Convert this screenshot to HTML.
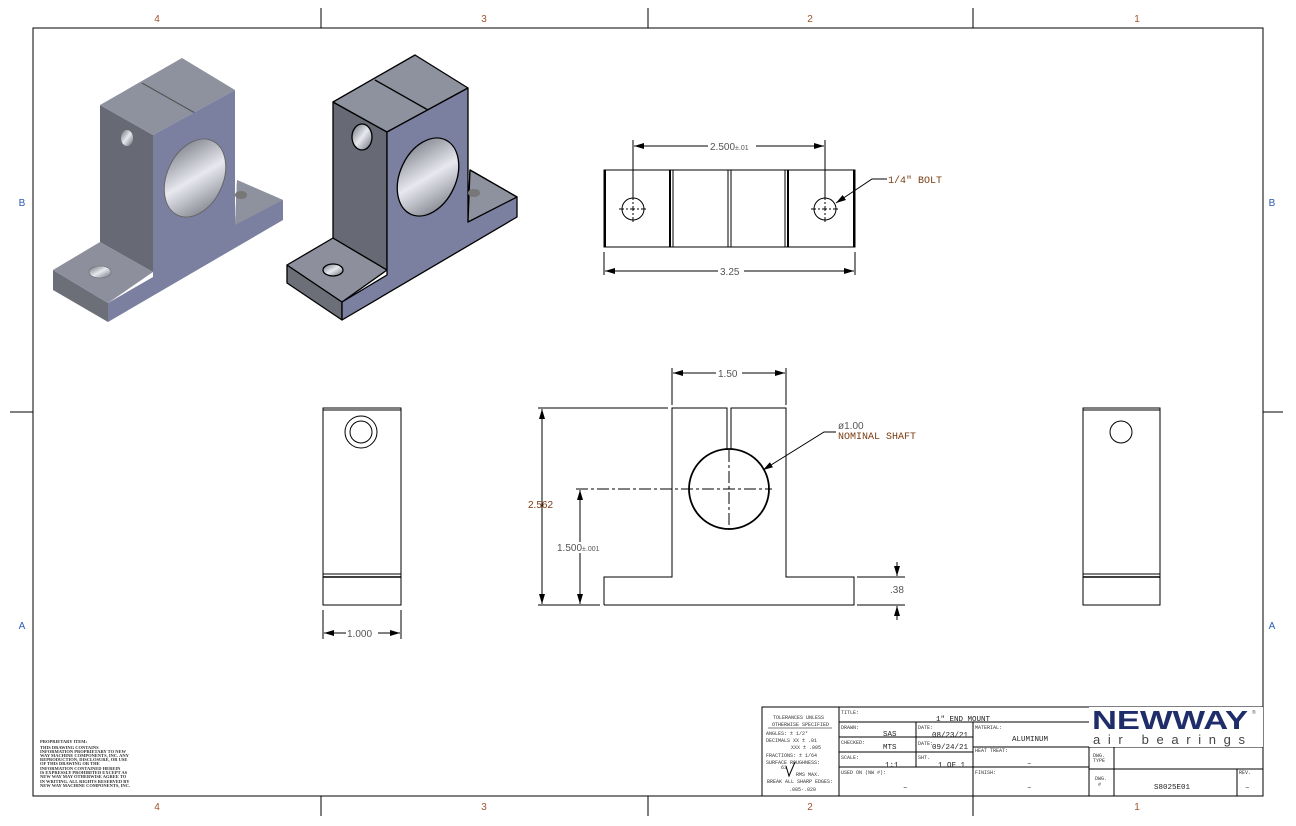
<!DOCTYPE html>
<html><head><meta charset="utf-8"><style>
html,body{margin:0;padding:0;background:#fff}
svg{display:block}
.s{font-family:"Liberation Sans",sans-serif}
.m{font-family:"Liberation Mono",monospace}
.r{font-family:"Liberation Serif",serif}
</style></head><body>
<svg width="1296" height="826" viewBox="0 0 1296 826" xmlns="http://www.w3.org/2000/svg">
<defs>
<marker id="ar" viewBox="0 0 10 6" refX="10" refY="3" markerWidth="10" markerHeight="6" orient="auto-start-reverse" markerUnits="userSpaceOnUse"><path d="M0,0L10,3L0,6z" fill="#000"/></marker>
<linearGradient id="hg" x1="0" y1="0" x2="1" y2="1"><stop offset="0" stop-color="#6a6d78"/><stop offset="0.5" stop-color="#e8e9ef"/><stop offset="1" stop-color="#6a6d78"/></linearGradient>
</defs>
<rect width="1296" height="826" fill="#fff"/>
<rect x="33" y="28" width="1230" height="768" fill="none" stroke="#000" stroke-width="1"/>
<g stroke="#000" stroke-width="1">
<line x1="321" y1="8" x2="321" y2="28"/><line x1="648" y1="8" x2="648" y2="28"/><line x1="973" y1="8" x2="973" y2="28"/>
<line x1="321" y1="796" x2="321" y2="816"/><line x1="648" y1="796" x2="648" y2="816"/><line x1="973" y1="796" x2="973" y2="816"/>
<line x1="10" y1="412" x2="33" y2="412"/><line x1="1263" y1="412" x2="1283" y2="412"/>
</g>
<g class="s" font-size="10" fill="#a0522d" text-anchor="middle">
<text x="157" y="22">4</text><text x="484" y="22">3</text><text x="810" y="22">2</text><text x="1137" y="22">1</text>
<text x="157" y="810">4</text><text x="484" y="810">3</text><text x="810" y="810">2</text><text x="1137" y="810">1</text>
</g>
<g class="s" font-size="10" fill="#2a5db0" text-anchor="middle">
<text x="22" y="206">B</text><text x="22" y="629">A</text><text x="1272" y="206">B</text><text x="1272" y="629">A</text>
</g>

<g>
<polygon points="53,270 108,303 108,322 53,290" fill="#6c6f78"/>
<polygon points="53,270 100,242 153,272 108,303" fill="#8d909c"/>
<polygon points="100,105 153,135 153,272 100,242" fill="#676a74"/>
<polygon points="100,105 182,58 235,90 153,135" fill="#8e919e"/>
<line x1="142" y1="83" x2="195" y2="113" stroke="#555" stroke-width="1.2"/>
<polygon points="153,135 235,90 235,225 237,180 283,200 283,220 108,322 108,303 153,277" fill="#7b7fa0"/>
<polygon points="237,180 283,200 235,225" fill="#8e919e"/>
<ellipse cx="195" cy="178" rx="28" ry="41" transform="rotate(25 195 178)" fill="url(#hg)" stroke="#666"/>
<ellipse cx="127" cy="138" rx="6" ry="8" fill="url(#hg)"/>
<ellipse cx="100" cy="272" rx="11" ry="6" fill="url(#hg)" stroke="#666" stroke-width=".6"/>
<ellipse cx="241" cy="195" rx="6" ry="4" fill="#777"/>
</g>
<g stroke="#000" stroke-width="1.3" stroke-linejoin="round">
<polygon points="287,265 342,302 342,320 287,283" fill="#6c6f78"/>
<polygon points="287,265 333,238 387,270 342,302" fill="#8d909c"/>
<polygon points="333,102 387,132 387,270 333,238" fill="#676a74"/>
<polygon points="333,102 415,55 468,88 387,132" fill="#8e919e"/>
<polygon points="387,132 468,88 468,222 470,170 517,197 517,217 342,320 342,302 387,275" fill="#7b7fa0"/>
<polygon points="470,170 517,197 468,222" fill="#8e919e"/>
<line x1="375" y1="80" x2="428" y2="110"/>
<ellipse cx="428" cy="177" rx="28" ry="41" transform="rotate(25 428 177)" fill="url(#hg)"/>
<ellipse cx="362" cy="137" rx="10" ry="13" fill="url(#hg)"/>
<ellipse cx="333" cy="270" rx="10" ry="6" fill="url(#hg)"/>
<ellipse cx="474" cy="193" rx="6" ry="4" fill="#777" stroke="none"/>
</g>

<g stroke="#000" stroke-width="1" fill="none">
<rect x="604" y="170" width="251" height="77"/>
<line x1="605" y1="170" x2="605" y2="247" stroke-width="2"/>
<line x1="670" y1="170" x2="670" y2="247" stroke-width="2"/><line x1="673" y1="170" x2="673" y2="247"/>
<line x1="728" y1="170" x2="728" y2="247"/><line x1="731" y1="170" x2="731" y2="247"/>
<line x1="785" y1="170" x2="785" y2="247"/><line x1="788" y1="170" x2="788" y2="247" stroke-width="2"/>
<line x1="854" y1="170" x2="854" y2="247" stroke-width="2"/>
<circle cx="633" cy="209" r="11"/><circle cx="825" cy="209" r="11"/>
<path d="M619,209h28M633,195v28M811,209h28M825,195v28" stroke-dasharray="5,2,2,2"/>
<line x1="633" y1="140" x2="633" y2="198"/><line x1="825" y1="140" x2="825" y2="198"/>
<line x1="634" y1="146" x2="824" y2="146" marker-start="url(#ar)" marker-end="url(#ar)"/>
<line x1="604" y1="252" x2="604" y2="275"/><line x1="855" y1="252" x2="855" y2="275"/>
<line x1="605" y1="271" x2="854" y2="271" marker-start="url(#ar)" marker-end="url(#ar)"/>
<polyline points="887,179 872,179 836,203" marker-end="url(#ar)"/>
</g>
<rect x="708" y="140" width="48" height="11" fill="#fff"/>
<text class="s" x="710" y="150" font-size="10" fill="#555">2.500<tspan font-size="7">±.01</tspan></text>
<rect x="718" y="265" width="26" height="11" fill="#fff"/>
<text class="s" x="720" y="275" font-size="10" fill="#555">3.25</text>
<text class="m" x="888" y="183" font-size="10" fill="#7a3b10">1/4" BOLT</text>

<g stroke="#000" stroke-width="1" fill="none">
<polyline points="604,605 604,577 672,577 672,408 727,408 727,450"/>
<polyline points="731,450 731,408 786,408 786,577 854,577 854,605 604,605"/>
<circle cx="729" cy="489" r="40" stroke-width="1.8"/>
<line x1="576" y1="489" x2="772" y2="489" stroke-dasharray="12,3,3,3"/>
<line x1="729" y1="450" x2="729" y2="530" stroke-dasharray="12,3,3,3"/>
<line x1="672" y1="405" x2="672" y2="368"/><line x1="786" y1="405" x2="786" y2="368"/>
<line x1="673" y1="373" x2="785" y2="373" marker-start="url(#ar)" marker-end="url(#ar)"/>
<line x1="538" y1="408" x2="668" y2="408"/>
<line x1="538" y1="605" x2="600" y2="605"/>
<line x1="542" y1="409" x2="542" y2="604" marker-start="url(#ar)" marker-end="url(#ar)"/>
<line x1="580" y1="490" x2="580" y2="604" marker-start="url(#ar)" marker-end="url(#ar)"/>
<line x1="857" y1="577" x2="905" y2="577"/><line x1="857" y1="605" x2="905" y2="605"/>
<line x1="897" y1="562" x2="897" y2="576" marker-end="url(#ar)"/>
<line x1="897" y1="620" x2="897" y2="606" marker-end="url(#ar)"/>
<polyline points="836,432 824,432 763,470" marker-end="url(#ar)"/>
</g>
<rect x="716" y="367" width="26" height="11" fill="#fff"/>
<text class="s" x="718" y="377" font-size="10" fill="#555">1.50</text>
<text class="s" x="528" y="508" font-size="10" fill="#7a3b10">2.562</text>
<rect x="556" y="542" width="48" height="11" fill="#fff"/>
<text class="s" x="557" y="551" font-size="10" fill="#555">1.500<tspan font-size="7">±.001</tspan></text>
<text class="s" x="890" y="593" font-size="10" fill="#555">.38</text>
<text class="s" x="838" y="429" font-size="10" fill="#555">ø1.00</text>
<text class="m" x="838" y="439" font-size="10" fill="#7a3b10">NOMINAL SHAFT</text>

<g stroke="#000" stroke-width="1" fill="none">
<rect x="323" y="408" width="78" height="197"/>
<line x1="323" y1="410" x2="401" y2="410"/>
<line x1="323" y1="574" x2="401" y2="574"/><line x1="323" y1="577" x2="401" y2="577" stroke-width="1.5"/>
<circle cx="361" cy="432" r="16"/><circle cx="361" cy="432" r="11"/>
<line x1="323" y1="610" x2="323" y2="639"/><line x1="401" y1="610" x2="401" y2="639"/>
<line x1="324" y1="633" x2="400" y2="633" marker-start="url(#ar)" marker-end="url(#ar)"/>
<rect x="1083" y="408" width="77" height="197"/>
<line x1="1083" y1="410" x2="1160" y2="410"/>
<line x1="1083" y1="574" x2="1160" y2="574"/><line x1="1083" y1="577" x2="1160" y2="577" stroke-width="1.5"/>
<circle cx="1121" cy="432" r="11"/>
</g>
<rect x="346" y="627" width="32" height="11" fill="#fff"/>
<text class="s" x="347" y="637" font-size="10" fill="#555">1.000</text>

<g class="r" font-size="4.5" font-weight="bold" fill="#333">
<text x="40" y="743">PROPRIETARY ITEM:</text>
<text x="40" y="749">THIS DRAWING CONTAINS</text>
<text x="40" y="753">INFORMATION PROPRIETARY TO NEW</text>
<text x="40" y="757">WAY MACHINE COMPONENTS, INC. ANY</text>
<text x="40" y="761">REPRODUCTION, DISCLOSURE, OR USE</text>
<text x="40" y="765">OF THIS DRAWING OR THE</text>
<text x="40" y="770">INFORMATION CONTAINED HEREIN</text>
<text x="40" y="774">IS EXPRESSLY PROHIBITED EXCEPT AS</text>
<text x="40" y="778">NEW WAY MAY OTHERWISE AGREE TO</text>
<text x="40" y="783">IN WRITING. ALL RIGHTS RESERVED BY</text>
<text x="40" y="787">NEW WAY MACHINE COMPONENTS, INC.</text>
</g>

<g stroke="#000" stroke-width="1" fill="none">
<rect x="762" y="707" width="501" height="89"/>
<line x1="839" y1="707" x2="839" y2="796"/>
<line x1="839" y1="722" x2="1089" y2="722"/>
<line x1="916" y1="722" x2="916" y2="767"/>
<line x1="839" y1="737" x2="973" y2="737"/>
<line x1="839" y1="752" x2="973" y2="752"/>
<line x1="839" y1="767" x2="1089" y2="767"/>
<line x1="973" y1="722" x2="973" y2="800"/>
<line x1="973" y1="747" x2="1263" y2="747"/>
<line x1="1089" y1="747" x2="1089" y2="796"/>
<line x1="1089" y1="769" x2="1263" y2="769"/>
<line x1="1114" y1="747" x2="1114" y2="796"/>
<line x1="1237" y1="769" x2="1237" y2="796"/>
<line x1="768" y1="728" x2="832" y2="728" stroke-width=".6"/>
</g>
<rect x="1089" y="707" width="174" height="40" fill="#fff"/>
<g class="m" font-size="5" fill="#333">
<text x="773" y="719">TOLERANCES UNLESS</text>
<text x="772" y="726">OTHERWISE SPECIFIED</text>
<text x="766" y="735">ANGLES: ± 1/2°</text>
<text x="766" y="742">DECIMALS XX ± .01</text>
<text x="791" y="749">XXX ± .005</text>
<text x="766" y="757">FRACTIONS: ± 1/64</text>
<text x="766" y="764">SURFACE ROUGHNESS:</text>
<text x="781" y="769">63</text>
<text x="796" y="776">RMS MAX.</text>
<text x="767" y="783">BREAK ALL SHARP EDGES:</text>
<text x="789" y="791">.005-.020</text>
<text x="841" y="714">TITLE:</text>
<text x="841" y="729">DRAWN:</text><text x="918" y="729">DATE:</text>
<text x="841" y="744">CHECKED:</text><text x="918" y="745">DATE:</text>
<text x="841" y="759">SCALE:</text><text x="918" y="759">SHT.</text>
<text x="841" y="774">USED ON (NW #):</text>
<text x="975" y="729">MATERIAL:</text>
<text x="975" y="752">HEAT TREAT:</text>
<text x="975" y="774">FINISH:</text>
<text x="1093" y="757">DWG.</text><text x="1093" y="762">TYPE</text>
<text x="1095" y="780">DWG.</text><text x="1098" y="786">#</text>
<text x="1239" y="774">REV.</text>
</g>
<path d="M786,766l3,10l6,-14" stroke="#000" fill="none" stroke-width="1"/>
<g class="m" font-size="7.5" fill="#222">
<text x="936" y="721">1" END MOUNT</text>
<text x="883" y="736">SAS</text><text x="932" y="737">08/23/21</text>
<text x="883" y="749">MTS</text><text x="932" y="749">09/24/21</text>
<text x="885" y="767">1:1</text><text x="938" y="767">1 OF 1</text>
<text x="1012" y="741">ALUMINUM</text>
<text x="1154" y="789">S8025E01</text>
<text x="903" y="789">–</text><text x="1027" y="789">–</text><text x="1027" y="765">–</text><text x="1245" y="789">–</text>
</g>
<text x="1092" y="729" style="font-family:'Liberation Sans',sans-serif;font-weight:bold" font-size="26" fill="#1f2d6b" textLength="156" lengthAdjust="spacingAndGlyphs">NEWWAY</text>
<text x="1252" y="714" class="s" font-size="5" fill="#555">®</text>
<text x="1093" y="744" style="font-family:'Liberation Sans',sans-serif" font-size="13" fill="#444" textLength="152" lengthAdjust="spacing">air bearings</text>
</svg>
</body></html>
